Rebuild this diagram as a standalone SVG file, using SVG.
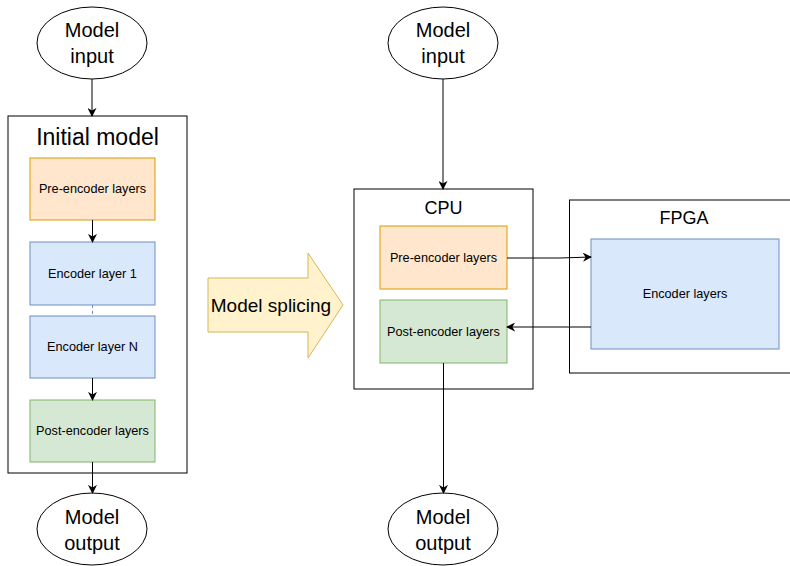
<svg xmlns="http://www.w3.org/2000/svg" width="790" height="566" viewBox="0 0 790 566">
  <defs>
    <marker id="arrow" viewBox="0 0 10 10" refX="9" refY="5" markerWidth="9" markerHeight="9" orient="auto" markerUnits="userSpaceOnUse">
      <path d="M0,0 L10,5 L0,10 L3,5 Z" fill="#000"/>
    </marker>
  </defs>
  <style>
    text { font-family: "Liberation Sans", Arial, sans-serif; fill: #000; text-anchor: middle; dominant-baseline: central; }
    .io { fill: #fff; stroke: #000; stroke-width: 1; }
    .frame { fill: #fff; stroke: #000; stroke-width: 1; }
    .pre { fill: #ffe6cc; stroke: #d79b00; }
    .enc { fill: #dae8fc; stroke: #6c8ebf; }
    .post { fill: #d5e8d4; stroke: #82b366; }
    .big { font-size: 20px; }
    .title { font-size: 23px; }
    .sub { font-size: 18px; }
    .splice { font-size: 19px; }
    .lbl { font-size: 12.7px; }
    .edge { fill: none; stroke: #000; stroke-width: 1; marker-end: url(#arrow); }
  </style>

  <rect width="790" height="566" fill="#fff"/>

  <!-- left column: initial model -->
  <g id="in-left">
    <ellipse class="io" cx="92" cy="43" rx="55" ry="36"/>
    <text class="big" x="92" y="30">Model</text>
    <text class="big" x="92" y="56">input</text>
  </g>
  <g id="initial-model">
    <rect class="frame" x="8" y="116" width="179" height="357"/>
    <text class="title" x="97.5" y="137">Initial model</text>
  </g>
  <g id="pre-left">
    <rect class="pre" x="30" y="158" width="125" height="62"/>
    <text class="lbl" x="92.5" y="189">Pre-encoder layers</text>
  </g>
  <g id="enc1">
    <rect class="enc" x="30" y="242" width="125" height="63"/>
    <text class="lbl" x="92.5" y="273.5">Encoder layer 1</text>
  </g>
  <g id="encN">
    <rect class="enc" x="30" y="316" width="125" height="62"/>
    <text class="lbl" x="92.5" y="347">Encoder layer N</text>
  </g>
  <g id="post-left">
    <rect class="post" x="30" y="400" width="125" height="62"/>
    <text class="lbl" x="92.5" y="431">Post-encoder layers</text>
  </g>
  <g id="out-left">
    <ellipse class="io" cx="92" cy="529" rx="55" ry="36"/>
    <text class="big" x="92" y="517">Model</text>
    <text class="big" x="92" y="543">output</text>
  </g>

  <!-- transition arrow -->
  <g id="splicing">
    <path d="M208,278 L308,278 L308,253 L343,305 L308,358 L308,332 L208,332 Z" fill="#fff2cc" stroke="#d6b656"/>
    <text class="splice" x="271" y="305">Model splicing</text>
  </g>

  <!-- right column: split deployment -->
  <g id="in-right">
    <ellipse class="io" cx="443" cy="43" rx="55" ry="36"/>
    <text class="big" x="443" y="30">Model</text>
    <text class="big" x="443" y="56">input</text>
  </g>
  <g id="cpu">
    <rect class="frame" x="354" y="189" width="179" height="200"/>
    <text class="sub" x="443.5" y="208">CPU</text>
  </g>
  <g id="pre-right">
    <rect class="pre" x="380" y="226" width="127" height="63"/>
    <text class="lbl" x="443.5" y="257.5">Pre-encoder layers</text>
  </g>
  <g id="post-right">
    <rect class="post" x="380" y="300" width="127" height="63"/>
    <text class="lbl" x="443.5" y="331.5">Post-encoder layers</text>
  </g>
  <g id="fpga">
    <rect class="frame" x="569.5" y="200" width="230" height="173"/>
    <text class="sub" x="684" y="218">FPGA</text>
  </g>
  <g id="enc-fpga">
    <rect class="enc" x="591" y="239" width="188" height="110"/>
    <text class="lbl" x="685" y="294">Encoder layers</text>
  </g>
  <g id="out-right">
    <ellipse class="io" cx="443" cy="529" rx="55" ry="36"/>
    <text class="big" x="443" y="517">Model</text>
    <text class="big" x="443" y="543">output</text>
  </g>

  <!-- connectors -->
  <g id="connectors">
    <path class="edge" d="M92,79 L92,116"/>
    <path class="edge" d="M92.5,220 L92.5,242"/>
    <path d="M92.5,305 L92.5,316" fill="none" stroke="#6c8ebf" stroke-dasharray="3,3"/>
    <path class="edge" d="M92.5,378 L92.5,400"/>
    <path class="edge" d="M92.5,462 L92.5,493"/>
    <path class="edge" d="M443,79 L443,189"/>
    <path class="edge" d="M507,258 L560,258 L591,257"/>
    <path class="edge" d="M591,327 L507,327"/>
    <path class="edge" d="M443.5,363 L443.5,493"/>
  </g>
</svg>
